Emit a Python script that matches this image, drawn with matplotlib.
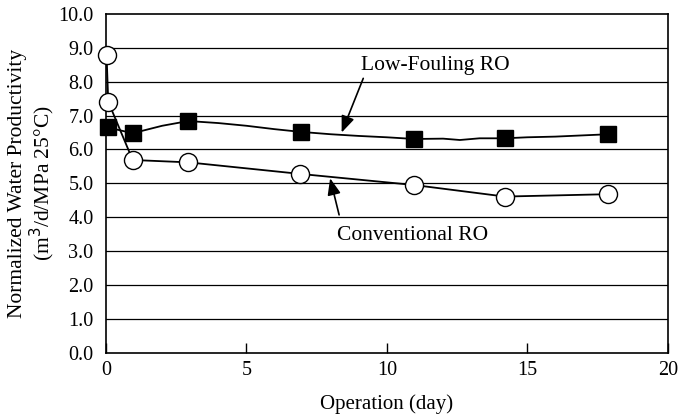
import matplotlib
matplotlib.use("Agg")
import matplotlib.pyplot as plt

# marker points (day, productivity)
low_days = [0.06, 0.95, 2.93, 6.93, 10.98, 14.2, 17.89]
low_vals = [6.65, 6.48, 6.84, 6.52, 6.31, 6.33, 6.45]

# the low-fouling trace has more readings than markers
low_line_days = [0.06, 0.95, 2.0, 2.93, 4.0, 5.0, 6.0, 6.93, 8.0, 9.0, 10.0, 10.98,
                 12.0, 12.6, 13.3, 14.2, 15.0, 16.0, 17.89]
low_line_vals = [6.65, 6.48, 6.70, 6.84, 6.78, 6.70, 6.60, 6.52, 6.45, 6.40, 6.36, 6.31,
                 6.32, 6.28, 6.33, 6.33, 6.36, 6.38, 6.45]

conv_days = [0.02, 0.08, 0.95, 2.93, 6.9, 10.98, 14.2, 17.89]
conv_vals = [8.79, 7.41, 5.69, 5.62, 5.28, 4.95, 4.61, 4.68]

x_ticks = [0, 5, 10, 15, 20]
y_ticks = [0, 1, 2, 3, 4, 5, 6, 7, 8, 9, 10]

plt.rcParams['font.family'] = ['Liberation Serif', 'DejaVu Serif']

fig = plt.figure(figsize=(6.83, 4.19), dpi=100)
ax = fig.add_axes([0.1552, 0.1582, 0.8224, 0.8084])

ax.set_xlim(0, 20)
ax.set_ylim(0, 10)
for y in y_ticks[1:-1]:
    ax.axhline(y, color='black', lw=0.9, zorder=1)

ax.plot(low_line_days, low_line_vals, color='black', lw=1.3, zorder=2)
ax.plot(low_days, low_vals, ls='none', marker='s', ms=11.5, mfc='black',
        mec='black', zorder=4, clip_on=False)
ax.plot(conv_days, conv_vals, color='black', lw=1.3, marker='o', ms=13,
        mfc='white', mec='black', mew=1.0, zorder=3, clip_on=False)

arrow = dict(arrowstyle='-|>,head_length=1.0,head_width=0.4', color='black',
             lw=1.2, shrinkA=0, shrinkB=0)
ax.annotate('', xy=(8.39, 6.5), xytext=(9.16, 8.1), arrowprops=arrow)
ax.text(11.72, 8.49, 'Low-Fouling RO', fontsize=15.5, ha='center', va='center')
ax.annotate('', xy=(7.98, 5.15), xytext=(8.3, 4.07), arrowprops=arrow)
ax.text(10.9, 3.47, 'Conventional RO', fontsize=15.5, ha='center', va='center')

ax.set_xticks(x_ticks)
ax.set_yticks(y_ticks)
ax.set_yticklabels([f"{v:.1f}" for v in y_ticks])
ax.tick_params(axis='x', direction='in', length=7, width=1, labelsize=14.5, pad=6)
ax.tick_params(axis='y', length=0, labelsize=14.5, pad=9)
for s in ax.spines.values():
    s.set_linewidth(1.2)

ax.set_xlabel('Operation (day)', fontsize=15, labelpad=10)
fig.text(32.5 / 683, 0.5624, 'Normalized Water Productivity\n(m$^3$/d/MPa 25°C)',
         fontsize=15.5, rotation=90, ha='center', va='center', linespacing=1.0)

fig.savefig('out.png', dpi=100)
